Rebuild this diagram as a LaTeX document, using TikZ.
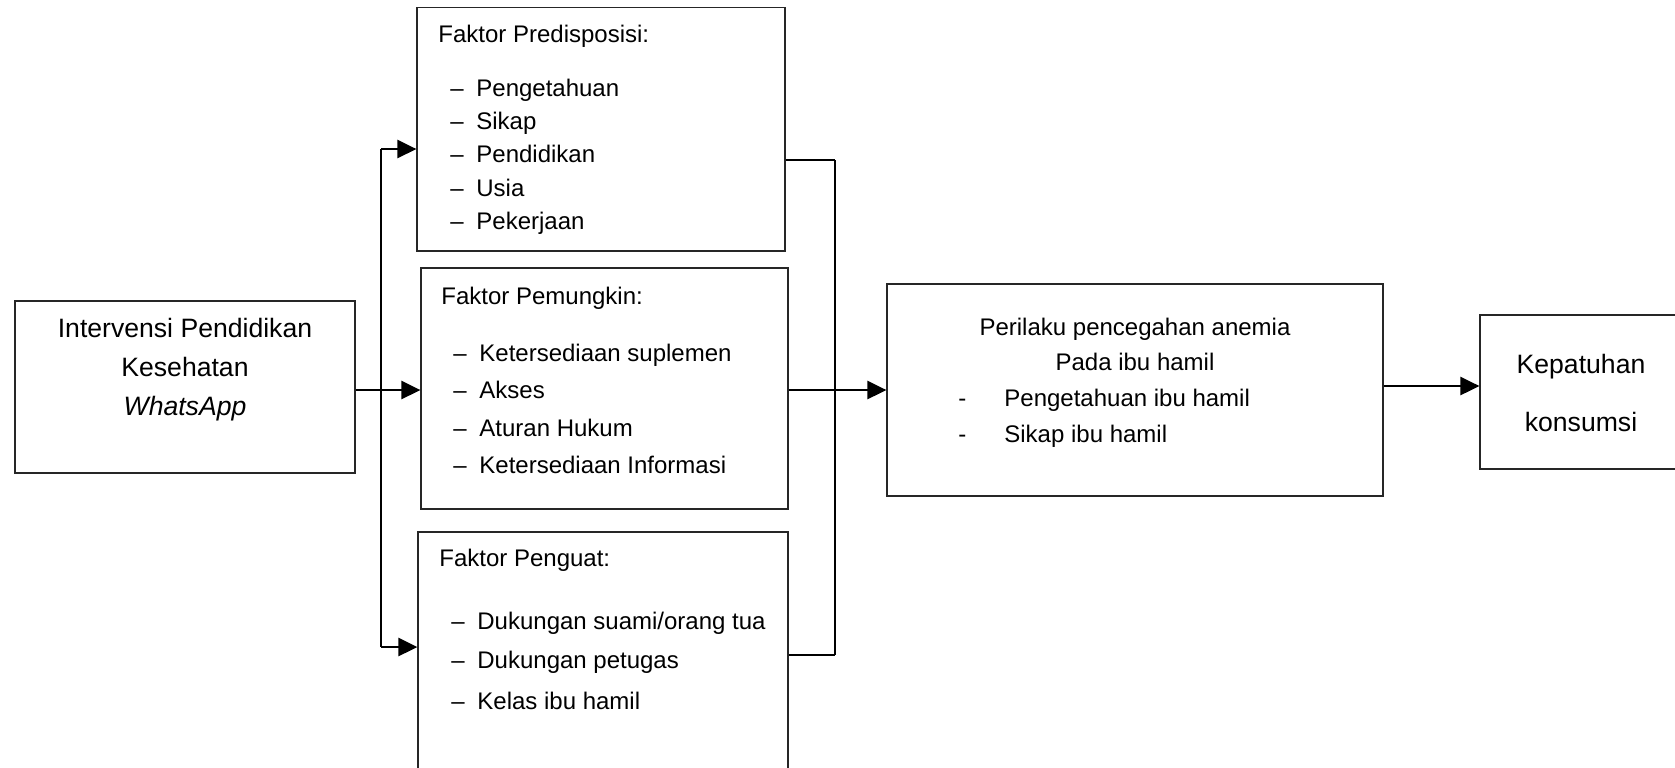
\documentclass[tikz,border=0pt]{standalone}
\usepackage{fontspec}
\setmainfont{Liberation Sans}
\usetikzlibrary{arrows.meta}
\begin{document}
\begin{tikzpicture}[x=0.5pt,y=-0.5pt,
  box/.style={draw=black!85, line width=0.6pt, inner sep=0pt, fill=white},
  conn/.style={draw=black, line width=1.4pt},
  arr/.style={conn, -{Triangle[length=9.5pt,width=9pt]}},
  txt/.style={inner sep=0pt, font=\fontsize{12}{14}\selectfont, text height=8.6pt, text depth=2.5pt},
  lt/.style={txt, anchor=west},
  ct/.style={txt, anchor=center},
  bigt/.style={inner sep=0pt, anchor=center, font=\fontsize{13.3}{16}\selectfont, text height=9.5pt, text depth=2.8pt}
]
\clip (0,0) rectangle (1675,767);
\fill[white] (0,0) rectangle (1675,767);

% boxes
\node[box, minimum width=170pt, minimum height=86pt] (intv) at (185,387) {};
\node[box, minimum width=184pt, minimum height=121.75pt] (b1) at (601,129.25) {};
\node[box, minimum width=183.5pt, minimum height=120.5pt] (b2) at (604.5,388.5) {};
\node[box, minimum width=185pt, minimum height=129pt] (b3) at (603,661) {};
\node[box, minimum width=248pt, minimum height=106pt] (per) at (1135,390) {};
\node[box, minimum width=110pt, minimum height=77pt] (kep) at (1590,392) {};

% Intervensi text
\node[bigt] (i1) at (185,331) {Intervensi Pendidikan};
\node[bigt] (i2) at (185,370) {Kesehatan};
\node[bigt] (i3) at (185,409) {\itshape WhatsApp};

% Box 1
\node[lt] (b1t) at (438,36) {Faktor Predisposisi:};
\foreach \y/\t [count=\k] in {90/Pengetahuan,123/Sikap,156/Pendidikan,190/Usia,223/Pekerjaan}{
  \node[lt] (b1d\k) at (450,\y) {–};
  \node[lt] (b1i\k) at (476,\y) {\t};
}

% Box 2
\node[lt] (b2t) at (441,298) {Faktor Pemungkin:};
\foreach \y/\t [count=\k] in {355/{Ketersediaan suplemen},392/Akses,430/{Aturan Hukum},467/{Ketersediaan Informasi}}{
  \node[lt] (b2d\k) at (453,\y) {–};
  \node[lt] (b2i\k) at (479,\y) {\t};
}

% Box 3
\node[lt] (b3t) at (439,560) {Faktor Penguat:};
\foreach \y/\t [count=\k] in {623/{Dukungan suami/orang tua},662/{Dukungan petugas},703/{Kelas ibu hamil}}{
  \node[lt] (b3d\k) at (451,\y) {–};
  \node[lt] (b3i\k) at (477,\y) {\t};
}

% Perilaku
\node[ct] (p1) at (1135,329) {Perilaku pencegahan anemia};
\node[ct] (p2) at (1135,364) {Pada ibu hamil};
\node[lt] (p3d) at (958,400) {-};
\node[lt] (p3) at (1004,400) {Pengetahuan ibu hamil};
\node[lt] (p4d) at (958,436) {-};
\node[lt] (p4) at (1004,436) {Sikap ibu hamil};

% Kepatuhan
\node[bigt] (k1) at (1581,367) {Kepatuhan};
\node[bigt] (k2) at (1581,425) {konsumsi};

% connectors left
\coordinate (lbT) at (381,149);
\coordinate (lbB) at (381,647);
\coordinate (midL) at (381,390);
\draw[conn] (lbT) -- (lbB);
\draw[arr] (lbT) -- (lbT -| b1.west);
\draw[arr] (lbB) -- (lbB -| b3.west);
\draw[arr] (intv.east |- midL) -- (b2.west |- midL);

% connectors right
\coordinate (rbT) at (835,160);
\coordinate (rbB) at (835,655);
\coordinate (midR) at (835,390);
\draw[conn] (rbT) -- (rbB);
\draw[conn] (b1.east |- rbT) -- (rbT);
\draw[conn] (b3.east |- rbB) -- (rbB);
\draw[arr] (b2.east |- midR) -- (per.west |- midR);

% to Kepatuhan
\coordinate (pk) at (1383,386);
\draw[arr] (per.east |- pk) -- (kep.west |- pk);
\end{tikzpicture}
\end{document}
